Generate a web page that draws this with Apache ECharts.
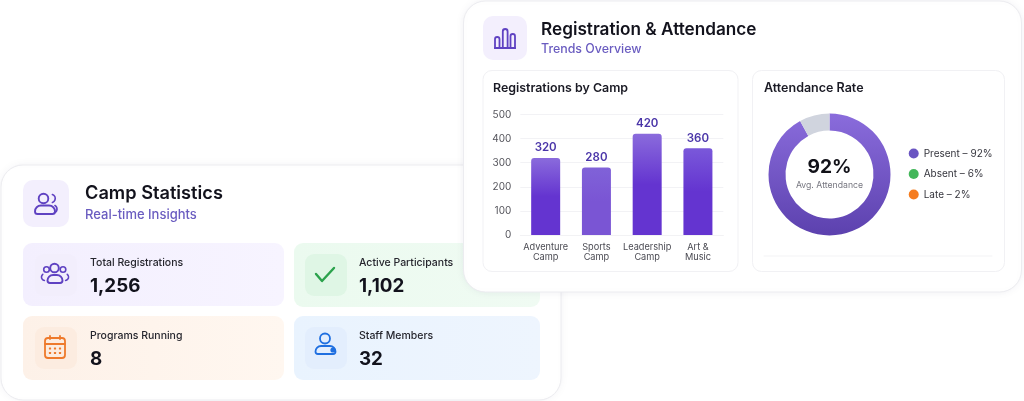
<!DOCTYPE html>
<html><head><meta charset="utf-8">
<style>html,body{margin:0;padding:0;background:#fff}#c{width:1024px;height:401px}</style>
<script src="https://cdn.jsdelivr.net/npm/echarts@6/dist/echarts.min.js"></script>
</head><body><div id="c"></div>
<script>
const camps = ['Adventure\nCamp','Sports\nCamp','Leadership\nCamp','Art &\nMusic'];
const registrations = [320,280,420,360];
const yTicks = {min:0,max:500,interval:100};
const ringNames = ['Present','Not present'];
const ringValues = [92,8];
const legendNames = ['Present – 92%','Absent – 6%','Late – 2%'];
const legendValues = [92,6,2];
const legendColors = ['#6a55c2','#43b75a','#f57c1f'];
const stats = [
 ['Total Registrations','1,256'],
 ['Active Participants','1,102'],
 ['Programs Running','8'],
 ['Staff Members','32']
];
const FONT='Inter, "Noto Sans", sans-serif';
const g=[];
function rect(x,y,w,h,r,fill,z,extra){g.push({type:'rect',z,silent:true,shape:{x,y,width:w,height:h,r},style:Object.assign({fill},extra||{})});}
function text(x,y,t,size,weight,fill,z,align){g.push({type:'text',z,silent:true,style:{x,y,text:t,font:`${weight} ${size}px ${FONT}`,fill,align:align||'left',verticalAlign:'middle'}});}
function line(pts,c,w,z){g.push({type:'polyline',z,silent:true,shape:{points:pts},style:{stroke:c,lineWidth:w,fill:null,lineCap:'round',lineJoin:'round'}});}
function circ(x,y,r,c,w,z){g.push({type:'circle',z,silent:true,shape:{cx:x,cy:y,r},style:{stroke:c,lineWidth:w,fill:null}});}
function arc(x,y,r,a,b,c,w,z){g.push({type:'arc',z,silent:true,shape:{cx:x,cy:y,r,startAngle:a*Math.PI/180,endAngle:b*Math.PI/180,clockwise:true},style:{stroke:c,lineWidth:w,fill:null,lineCap:'round'}});}
function body(x,y,w,h,c,lw,z){rect(x,y,w,h,[h*0.8,h*0.8,h*0.35,h*0.35],'rgba(0,0,0,0)',z,{stroke:c,lineWidth:lw});}
function grad(a,b){return {type:'linear',x:0,y:0,x2:1,y2:0,colorStops:[{offset:0,color:a},{offset:1,color:b}]};}

// left panel
rect(1,165,560,235,22,'#ffffff',1,{stroke:'#ececf0',lineWidth:1,shadowBlur:10,shadowColor:'rgba(40,40,80,0.05)'});
rect(23,180,46,47,10,'#f3effd',1);
const P='#5f42c2';
circ(43.5,198.5,4.8,P,1.9,1); body(35,205.5,20,8.5,P,1.9,1); arc(51,198.5,4.2,-70,70,P,1.7,1); arc(53,209,4,-60,70,P,1.7,1);
text(85,194,'Camp Statistics',18.2,600,'#12121c',1);
text(85,215.5,'Real-time Insights',13,500,'#6a5cc0',1);
rect(23,243,261,63,9,grad('#f3effe','#f7f4ff'),1);
rect(294,243,246,64,9,grad('#ebfaef','#f0fbf3'),1);
rect(23,316,261,64,9,grad('#fdf1e8','#fff7f0'),1);
rect(294,316,246,64,9,grad('#e9f3fe','#eef5fe'),1);
rect(35,254,42,42,9,'#f2eefc',1);
rect(305,254,42,42,9,'#dff6e5',1);
rect(35,327,42,42,9,'#fcece0',1);
rect(305,327,42,42,9,'#e3eefd',1);
// stat icons
circ(54.5,268,4.3,P,1.9,1); circ(46.5,269.5,2.8,P,1.6,1); circ(63,269.5,2.8,P,1.6,1); body(47.5,275,15,8,P,1.9,1); arc(45,277,3.5,100,230,P,1.6,1); arc(65,277,3.5,-50,80,P,1.6,1);
line([[316,274],[322,281],[334,268]],'#2ba24c',2.4,1);
const O='#ee7a2c';
rect(45,338,20,20,3,'rgba(0,0,0,0)',1,{stroke:O,lineWidth:1.8});
line([[45,344],[65,344]],O,1.8,1); line([[50,336],[50,339]],O,1.8,1); line([[60,336],[60,339]],O,1.8,1);
[[50,348.5],[55,348.5],[60,348.5],[50,353],[55,353],[60,353]].forEach(p=>rect(p[0]-1.1,p[1]-1.1,2.2,2.2,0.5,O,1));
const B='#1f6fe0';
circ(325,338.5,5,B,1.8,1); body(315.5,346,20,8,B,1.8,1); g.push({type:'circle',z:1,silent:true,shape:{cx:333,cy:350,r:2.6},style:{fill:B}});
text(90,262.5,stats[0][0],10.5,500,'#26262e',1); text(90,286,stats[0][1],18.8,700,'#12121c',1);
text(359,262.5,stats[1][0],10.5,500,'#26262e',1); text(359,286,stats[1][1],18.8,700,'#12121c',1);
text(90,336,stats[2][0],10.5,500,'#26262e',1); text(90,359,stats[2][1],18.8,700,'#12121c',1);
text(359,336,stats[3][0],10.5,500,'#26262e',1); text(359,359,stats[3][1],18.8,700,'#12121c',1);

// right panel
rect(463.5,1,558,291,22,'#ffffff',2,{stroke:'#ececf0',lineWidth:1,shadowBlur:10,shadowColor:'rgba(40,40,80,0.06)'});
rect(483,16,44,44,10,'#f3effd',2);
rect(495,37,4.5,11,[2.2,2.2,0,0],'rgba(0,0,0,0)',2,{stroke:P,lineWidth:1.8});
rect(502.8,29,4.8,19,[2.4,2.4,0,0],'rgba(0,0,0,0)',2,{stroke:P,lineWidth:1.8});
rect(510.5,34,4.5,14,[2.2,2.2,0,0],'rgba(0,0,0,0)',2,{stroke:P,lineWidth:1.8});
line([[495,48],[515,48]],P,1.8,2);
text(541,29.5,'Registration & Attendance',17.2,600,'#12121c',2);
text(541,49,'Trends Overview',12.4,500,'#6a5cc0',2);
rect(483,70.5,255,201,9,'#ffffff',2,{stroke:'#f1f1f4',lineWidth:1});
rect(752.5,70.5,252,201,9,'#ffffff',2,{stroke:'#f1f1f4',lineWidth:1});
text(493,88,'Registrations by Camp',12.4,600,'#1a1a24',2);
text(764,88,'Attendance Rate',12.5,600,'#1a1a24',2);
line([[764,256],[992,256]],'#f3f3f5',1,2);
text(829.5,167.5,'92%',19.2,700,'#111118',12,'center');
text(829.5,185,'Avg. Attendance',8.7,400,'#777780',12,'center');

const barColors=[['#8a6bdc','#6434d0'],['#8062d8','#7a55d4'],['#8a6bdc','#6434d0'],['#7a58da','#6434d0']];
const chart=echarts.init(document.getElementById('c'),null,{renderer:'canvas'});
chart.setOption({
 animation:false,
 backgroundColor:'#ffffff',
 textStyle:{fontFamily:FONT},
 graphic:{elements:g},
 grid:{left:520.3,width:203,top:114.5,height:120.5,containLabel:false,z:10},
 xAxis:{type:'category',data:camps,z:10,axisLine:{lineStyle:{color:'#f2f2f4'}},axisTick:{show:false},
  axisLabel:{color:'#4a4a52',fontSize:9.2,lineHeight:10.5,margin:6.5,interval:0,fontFamily:FONT}},
 yAxis:{type:'value',min:yTicks.min,max:yTicks.max,interval:yTicks.interval,z:10,axisLine:{show:false},axisTick:{show:false},
  splitLine:{lineStyle:{color:'#f2f2f5'}},axisLabel:{color:'#55555c',fontSize:10,margin:9,fontFamily:FONT}},
 legend:{z:10,orient:'vertical',left:908.7,top:148.5,itemWidth:10,itemHeight:10,itemGap:10.5,icon:'circle',selectedMode:false,padding:0,
  textStyle:{color:'#35353d',fontSize:10,fontFamily:FONT},data:legendNames},
 series:[
  {type:'bar',z:10,barWidth:29,silent:true,data:registrations.map((v,i)=>({value:v,itemStyle:{borderRadius:[3,3,0,0],color:{type:'linear',x:0,y:0,x2:0,y2:1,colorStops:[{offset:0,color:barColors[i][0]},{offset:0.5,color:barColors[i][1]},{offset:1,color:barColors[i][1]}]}}})),
   label:{show:true,position:'top',distance:4,color:'#4a35a8',fontSize:11.5,fontWeight:600,fontFamily:FONT}},
  {type:'pie',z:10,silent:true,center:[829.5,174.5],radius:[44,61],startAngle:90,label:{show:false},labelLine:{show:false},
   data:ringNames.map((n,i)=>({name:n,value:ringValues[i],itemStyle:{color:i===0?{type:'linear',x:0,y:0,x2:0,y2:1,colorStops:[{offset:0,color:'#8a6cdc'},{offset:1,color:'#5c41ae'}]}:'#d0d4de'}}))},
  {type:'pie',z:10,silent:true,center:[829.5,174.5],radius:[0,0],label:{show:false},labelLine:{show:false},
   data:legendNames.map((n,i)=>({name:n,value:legendValues[i],itemStyle:{color:legendColors[i]}}))}
 ]
});
</script></body></html>
